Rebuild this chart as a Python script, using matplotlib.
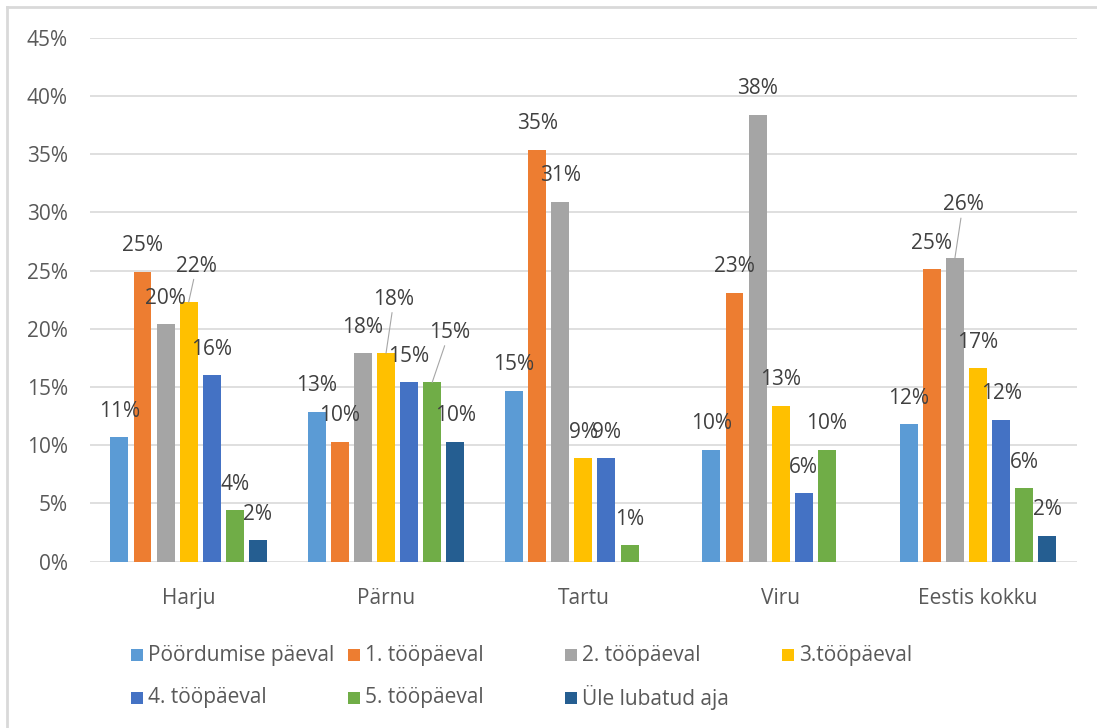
"""Grouped bar chart: share of requests answered per working day, by region."""

import matplotlib.pyplot as plt
import numpy as np
from matplotlib.lines import Line2D
from matplotlib.patches import Rectangle

FIG_W, FIG_H = 1097, 728

regions = ["Harju", "Pärnu", "Tartu", "Viru", "Eestis kokku"]
series_names = [
    "Pöördumise päeval",
    "1. tööpäeval",
    "2. tööpäeval",
    "3.tööpäeval",
    "4. tööpäeval",
    "5. tööpäeval",
    "Üle lubatud aja",
]

# percent per region, one list per series
same_day = [10.7, 12.9, 14.7, 9.6, 11.8]
day_1 = [24.9, 10.3, 35.4, 23.1, 25.1]
day_2 = [20.4, 17.9, 30.9, 38.4, 26.1]
day_3 = [22.3, 17.9, 8.9, 13.4, 16.6]
day_4 = [16.0, 15.4, 8.9, 5.9, 12.2]
day_5 = [4.4, 15.4, 1.4, 9.6, 6.3]
overdue = [1.85, 10.3, np.nan, np.nan, 2.25]

series_values = [same_day, day_1, day_2, day_3, day_4, day_5, overdue]
colors = ["#5B9BD5", "#ED7D31", "#A5A5A5", "#FFC000", "#4472C4", "#70AD47", "#255E91"]

# labels that were dragged away from their bar, offset in pixels (dx, dy)
label_nudges = {(0, 3): (8, 36), (1, 3): (8, 54), (1, 5): (17, 50), (4, 2): (8, 53)}
DEFAULT_LABEL_OFFSET = (0, 26)

FONT = ["Open Sans", "DejaVu Sans"]
AXIS_GREY = "#595959"
LABEL_GREY = "#404040"
GRID_GREY = "#D9D9D9"


def px_box(left, top, right, bottom):
    """Figure-fraction rectangle from pixel edges measured from the top-left."""
    return [left / FIG_W, 1 - bottom / FIG_H, (right - left) / FIG_W, (bottom - top) / FIG_H]


def draw_legend(fig):
    col_x = [131, 348, 565, 782]
    row_y = [655, 698]
    size = 12
    for i, (name, color) in enumerate(zip(series_names, colors)):
        x = col_x[i % 4]
        y = row_y[i // 4]
        fig.add_artist(Rectangle(
            (x / FIG_W, 1 - (y + size / 2) / FIG_H), size / FIG_W, size / FIG_H,
            transform=fig.transFigure, facecolor=color, edgecolor="none",
        ))
        fig.text((x + size + 5) / FIG_W, 1 - y / FIG_H, name, family=FONT,
                 fontsize=15, color=AXIS_GREY, va="center", ha="left")


def main() -> None:
    plt.rcParams["font.family"] = FONT
    fig = plt.figure(figsize=(FIG_W / 100, FIG_H / 100), dpi=100)
    ax = fig.add_axes(px_box(90, 37.8, 1076.7, 561.7))

    x = np.arange(len(regions))
    step = 0.117
    width = 0.091
    for i, (values, color) in enumerate(zip(series_values, colors)):
        pos = x + (i - 3) * step
        ax.bar(pos, values, width=width, color=color, zorder=2)
        for g, (px, v) in enumerate(zip(pos, values)):
            if np.isnan(v):
                continue
            nudge = label_nudges.get((g, i))
            offset = nudge if nudge else DEFAULT_LABEL_OFFSET
            arrow = None
            if nudge:
                arrow = dict(arrowstyle="-", color="#A6A6A6", lw=0.8, shrinkA=0, shrinkB=0)
            ax.annotate(f"{v:.0f}%", (px, v), xytext=offset, textcoords="offset pixels",
                        ha="center", va="center", fontsize=15, color=LABEL_GREY,
                        arrowprops=arrow, zorder=3)

    ax.set_xlim(-0.5, len(regions) - 0.5)
    ax.set_ylim(0, 45)
    ax.set_yticks(np.arange(0, 46, 5))
    ax.set_yticklabels([f"{t}%" for t in range(0, 46, 5)])
    ax.set_xticks(x)
    ax.set_xticklabels(regions)
    ax.tick_params(axis="both", length=0, labelsize=15, labelcolor=AXIS_GREY)
    ax.tick_params(axis="y", pad=16)
    ax.tick_params(axis="x", pad=19)
    ax.grid(axis="y", color=GRID_GREY, lw=1.2, zorder=0)
    for spine in ax.spines.values():
        spine.set_visible(False)

    # chart area border (only top and left edges are inside the frame)
    fig.add_artist(Line2D([7 / FIG_W, 1], [1 - 7 / FIG_H] * 2, transform=fig.transFigure,
                          color=GRID_GREY, lw=2))
    fig.add_artist(Line2D([7 / FIG_W] * 2, [0, 1 - 7 / FIG_H], transform=fig.transFigure,
                          color=GRID_GREY, lw=2))

    draw_legend(fig)
    fig.savefig("out.png", dpi=100)
    plt.close(fig)


if __name__ == "__main__":
    main()
